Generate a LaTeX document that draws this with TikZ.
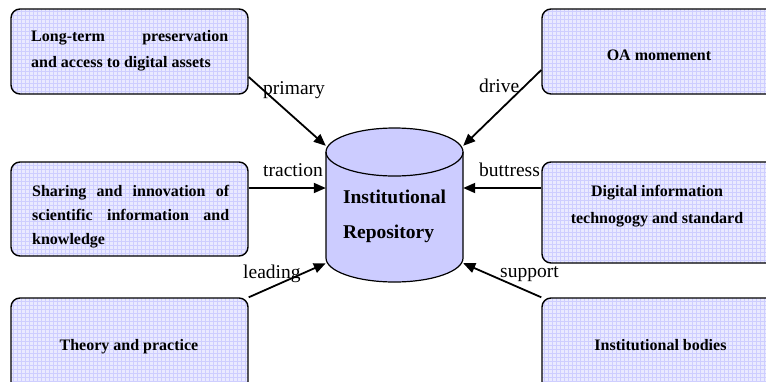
\documentclass[tikz,border=0pt]{standalone}
\usepackage{fontspec}
\setmainfont{Liberation Serif}
\usetikzlibrary{arrows.meta}
\definecolor{boxfill}{RGB}{234,234,255}
\definecolor{gridc}{RGB}{206,206,255}
\definecolor{cylfill}{RGB}{204,204,255}
\begin{document}
\begin{tikzpicture}[x=1pt,y=-1pt,
  box/.style={draw=black, line width=1.4pt, rounded corners=9pt, minimum width=237pt,
    inner sep=0pt, fill=boxfill,
    path picture={\draw[gridc, line width=0.5pt]
      ([shift={(-2pt,-2pt)}]path picture bounding box.south west) grid[step=4pt]
      (path picture bounding box.north east);}},
  boxtext/.style={inner sep=0pt, font=\bfseries},
  lbl/.style={inner sep=0pt, anchor=base west, font=\fontsize{19.5}{22}\selectfont},
  arr/.style={line width=1.8pt, -{Triangle[length=12pt, width=10pt]}},
  cyl/.style={draw=black, line width=1.2pt, fill=cylfill}
]
\useasboundingbox (0,0) rectangle (766,381);
\fill[white] (0,0) rectangle (766,381);
\clip (0,0) rectangle (766,381);

% boxes
\node[box, minimum height=85pt] (b1) at (129.5,51.5) {};
\node[box, minimum height=94pt] (b2) at (129.5,209) {};
\node[box, minimum height=94pt] (b3) at (129.5,345) {};
\node[box, minimum height=85pt] (b4) at (660.5,51.5) {};
\node[box, minimum height=101pt] (b5) at (660.5,212.5) {};
\node[box, minimum height=94pt] (b6) at (660.5,345) {};

% box texts
\node[boxtext, anchor=base west] (b1t) at (31,41)
  {\fontsize{16}{26}\selectfont\parbox[t]{197pt}{\makebox[197pt][s]{Long-term preservation}\\and access to digital assets}};
\node[boxtext, anchor=base west] (b2t) at (32,196)
  {\fontsize{16}{24}\selectfont\parbox[t]{197pt}{\makebox[197pt][s]{Sharing and innovation of}\\\makebox[197pt][s]{scientific information and}\\knowledge}};
\node[boxtext, anchor=base] (b3t) at (129,350) {\fontsize{16}{24}\selectfont Theory and practice};
\node[boxtext, anchor=base] (b4t) at (659,60) {\fontsize{16}{24}\selectfont OA momement};
\node[boxtext, anchor=base] (b5t) at (657,196)
  {\fontsize{16}{27}\selectfont\parbox[t]{220pt}{\centering Digital information\\technogogy and standard}};
\node[boxtext, anchor=base] (b6t) at (660.5,350) {\fontsize{16}{24}\selectfont Institutional bodies};

% cylinder
\node[minimum width=137pt, minimum height=154pt, inner sep=0pt] (ir) at (394.5,205) {};
\draw[cyl] (326,152) -- (326,258)
  arc[start angle=180, end angle=360, x radius=68.5pt, y radius=24pt] -- (463,152)
  arc[start angle=0, end angle=180, x radius=68.5pt, y radius=24pt] -- cycle;
\draw[line width=1.2pt] (326,152) arc[start angle=180, end angle=360, x radius=68.5pt, y radius=24pt];
\node[inner sep=0pt, anchor=base, font=\bfseries] (irt) at (394.5,203)
  {\fontsize{19.5}{35}\selectfont\begin{tabular}[t]{@{}l@{}}Institutional\\Repository\end{tabular}};

% connectors
\draw[arr] ([yshift=-25.5pt]b1.east) -- ([yshift=-18pt]ir.north west);
\draw[arr] ([yshift=21pt]b2.east) -- ([yshift=17pt]ir.west);
\draw[arr] (b3.north east) -- ([yshift=19pt]ir.south west);
\draw[arr] ([yshift=-18.5pt]b4.west) -- ([yshift=-18pt]ir.north east);
\draw[arr] ([yshift=24.5pt]b5.west) -- ([yshift=17pt]ir.east);
\draw[arr] (b6.north west) -- ([yshift=19pt]ir.south east);

% labels
\node[lbl] (lp) at (263,94) {primary};
\node[lbl] (ld) at (479,92) {drive};
\node[lbl] (lt) at (263,176) {traction};
\node[lbl] (lb) at (479,176) {buttress};
\node[lbl] (ll) at (243,278) {leading};
\node[lbl] (ls) at (500,277) {support};
\end{tikzpicture}
\end{document}
